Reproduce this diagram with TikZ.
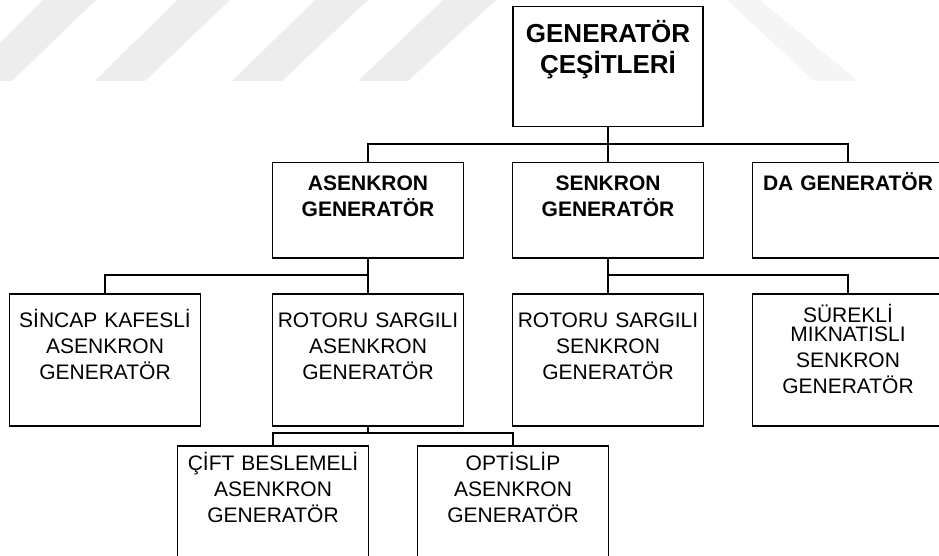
\documentclass[tikz,border=0pt]{standalone}
\usepackage{fontspec}
\setmainfont{Liberation Sans}

\begin{document}
\begin{tikzpicture}[x=1pt, y=-1pt, line width=1.5pt,
		box/.style={draw, fill=white, inner sep=0pt, anchor=north, align=center, text width=191pt},
		mainbox/.style={box, text width=190pt, font=\fontsize{26pt}{31pt}\selectfont\bfseries, text height=36pt, text depth=84pt},
		typebox/.style={box, font=\fontsize{21pt}{26pt}\selectfont\bfseries, text height=28pt, text depth=67pt},
		subbox/.style={box, font=\fontsize{21pt}{26pt}\selectfont, text height=34pt, text depth=98pt},
		leafbox/.style={subbox, text height=25pt, text depth=107pt},
		mark stripe/.style={fill=black!7, draw=none}]

		% === page bounds ===
		\useasboundingbox (0,0) rectangle (939,556);
		\clip (0,0) rectangle (939,556);

		% === Watermark ===
		\foreach \a/\b in {-38/43, 95/177, 232/315, 358/443} {
			\fill[mark stripe] (\a,81) -- ({\a+50},81) -- ({\b+53},0) -- (\b,0) -- cycle;
		}
		\fill[mark stripe, fill=black!4] (727,0) -- (760,0) -- (858,81) -- (814,81) -- cycle;

		% === Boxes ===
		\node[mainbox] (gen) at (608,6) {GENERATÖR\\ÇEŞİTLERİ};

		\node[typebox] (asn) at (368,162) {ASENKRON\\GENERATÖR};
		\node[typebox] (snk) at (608,162) {SENKRON\\GENERATÖR};
		\node[typebox] (dag) at (848,162) {DA GENERATÖR};

		\node[subbox] (sincap) at (105,293) {SİNCAP KAFESLİ\\ASENKRON\\GENERATÖR};
		\node[subbox] (rsasn)  at (368,293) {ROTORU SARGILI\\ASENKRON\\GENERATÖR};
		\node[subbox] (rssnk)  at (608,293) {ROTORU SARGILI\\SENKRON\\GENERATÖR};
		\node[subbox, text height=29pt, text depth=103pt] (mknt) at (848,293)
			{SÜREKLİ\\[-7pt]MIKNATISLI\\SENKRON\\GENERATÖR};

		\node[leafbox] (cift)  at (273,445) {ÇİFT BESLEMELİ\\ASENKRON\\GENERATÖR};
		\node[leafbox] (optis) at (513,445) {OPTİSLİP\\ASENKRON\\GENERATÖR};

		% === Connectors ===
		\coordinate (bus1) at (608,144);
		\coordinate (bus2) at (368,275);
		\coordinate (bus3) at (608,275);
		\coordinate (bus4) at (368,433);

		\draw (gen.south) -- (bus1) -| (asn.north);
		\draw (bus1) -| (dag.north);
		\draw (bus1) -- (snk.north);

		\draw (asn.south) -- (bus2) -| (sincap.north);
		\draw (bus2) -- (rsasn.north);

		\draw (snk.south) -- (bus3) -| (mknt.north);
		\draw (bus3) -- (rssnk.north);

		\draw (rsasn.south) -- (bus4) -| (cift.north);
		\draw (bus4) -| (optis.north);
	\end{tikzpicture}
\end{document}
